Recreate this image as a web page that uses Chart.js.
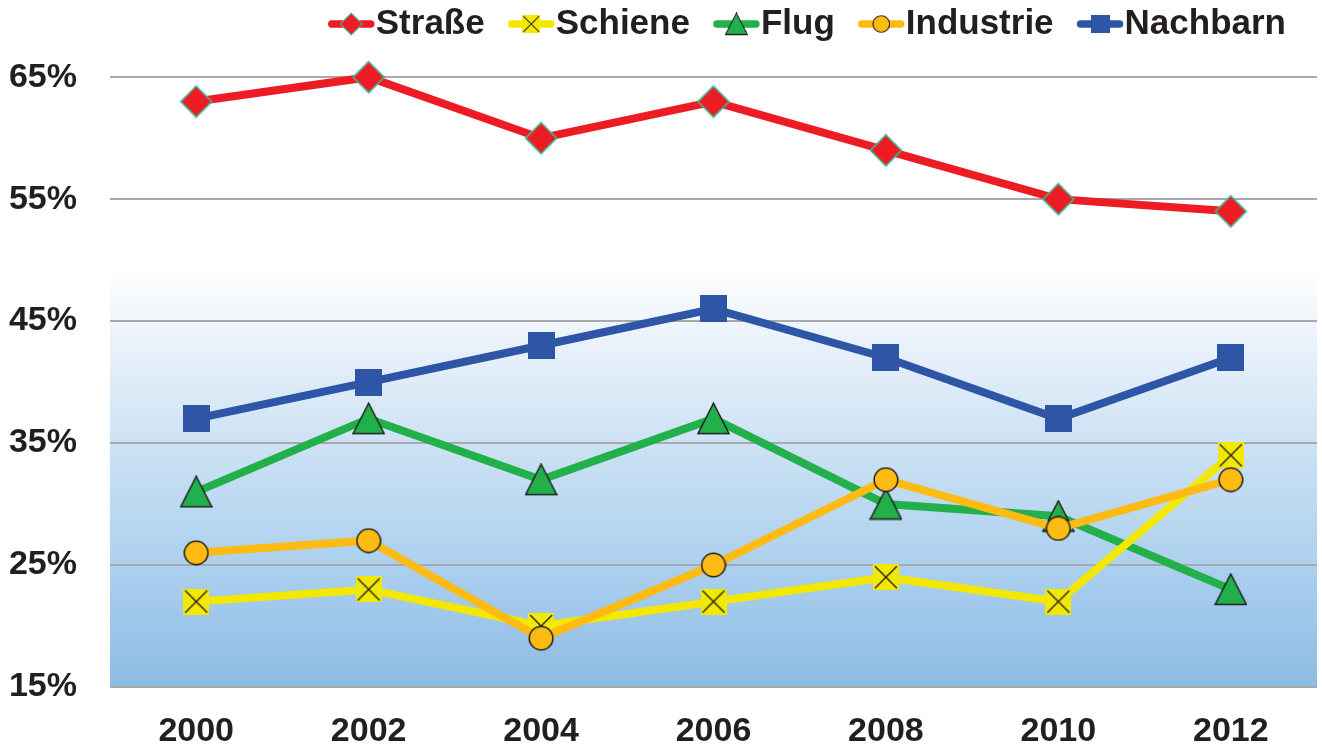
<!DOCTYPE html>
<html>
<head>
<meta charset="utf-8">
<script src="https://cdn.jsdelivr.net/npm/chart.js@4/dist/chart.umd.min.js"></script>
<style>
html,body{margin:0;padding:0;background:#fff;}
#wrap{width:1322px;height:749px;position:relative;}
</style>
</head>
<body>
<div id="wrap"><canvas id="c" width="1322" height="749"></canvas></div>
<script>
const years = ['2000','2002','2004','2006','2008','2010','2012'];
const strasse = [63,65,60,63,59,55,54];
const schiene = [22,23,20,22,24,22,34];
const flug = [31,37,32,37,30,29,23];
const industrie = [26,27,19,25,32,28,32];
const nachbarn = [37,40,43,46,42,37,42];
const yTicks = [15,25,35,45,55,65];
const seriesNames = ['Straße','Schiene','Flug','Industrie','Nachbarn'];

const FONT = '"Liberation Sans", Arial, Helvetica, sans-serif';
const TXT = '#231f20';
const COL = {
  red:'#ed1c24', yellow:'#f2e800', green:'#22b04b', orange:'#fdbb14', blue:'#2e55a6', teal:'#3dbb93'
};

function makeCanvas(w,h,draw){
  const c=document.createElement('canvas'); c.width=w; c.height=h;
  draw(c.getContext('2d'),w,h); return c;
}
const markers = {
  diamond: makeCanvas(34,34,(g,w,h)=>{
    g.beginPath(); g.moveTo(17,1.5); g.lineTo(32.5,17); g.lineTo(17,32.5); g.lineTo(1.5,17); g.closePath();
    g.fillStyle=COL.red; g.fill(); g.lineWidth=1.6; g.strokeStyle=COL.teal; g.stroke();
  }),
  xsquare: makeCanvas(26,26,(g,w,h)=>{
    g.fillStyle=COL.yellow; g.fillRect(0,0,26,26);
    g.strokeStyle=TXT; g.lineWidth=1.4; g.beginPath();
    g.moveTo(2,2); g.lineTo(24,24); g.moveTo(24,2); g.lineTo(2,24); g.stroke();
  }),
  triangle: makeCanvas(33,33,(g,w,h)=>{
    g.beginPath(); g.moveTo(16.5,1); g.lineTo(32,31.5); g.lineTo(1,31.5); g.closePath();
    g.fillStyle=COL.green; g.fill(); g.lineWidth=1.5; g.strokeStyle=TXT; g.lineJoin='miter'; g.stroke();
  }),
  circle: makeCanvas(26,26,(g,w,h)=>{
    g.beginPath(); g.arc(13,13,11.8,0,Math.PI*2);
    g.fillStyle=COL.orange; g.fill(); g.lineWidth=1.5; g.strokeStyle=TXT; g.stroke();
  }),
  square: makeCanvas(27,27,(g,w,h)=>{
    g.fillStyle=COL.blue; g.fillRect(0,0,27,27);
  })
};
const seriesStyle = [
  {data:strasse,  color:COL.red,    marker:markers.diamond},
  {data:schiene,  color:COL.yellow, marker:markers.xsquare},
  {data:flug,     color:COL.green,  marker:markers.triangle},
  {data:industrie,color:COL.orange, marker:markers.circle},
  {data:nachbarn, color:COL.blue,   marker:markers.square}
];
const drawOrder = [0,3,4,1,2]; // smaller order value drawn on top in Chart.js

const bgPlugin = {
  id:'bg',
  beforeDraw(chart){
    const {ctx, chartArea:a} = chart;
    const g = ctx.createLinearGradient(0,a.top,0,a.bottom);
    const h = a.bottom-a.top;
    g.addColorStop(0,'#ffffff');
    g.addColorStop(Math.max(0,(265-a.top)/h),'#ffffff');
    g.addColorStop((330-a.top)/h,'#edf4fb');
    g.addColorStop((443-a.top)/h,'#cde2f4');
    g.addColorStop((565-a.top)/h,'#acd0ee');
    g.addColorStop(1,'#8dbbe4');
    ctx.save(); ctx.fillStyle=g; ctx.fillRect(a.left,265,a.right-a.left,a.bottom-265); ctx.restore();
  }
};

const legendPlugin = {
  id:'customLegend',
  afterDraw(chart){
    const ctx = chart.ctx;
    ctx.save();
    ctx.font = 'bold 35px '+FONT;
    const lineLen=45, txtGap=2, itemGap=24, rightEdge=1286, cy=24;
    const widths = seriesNames.map(n=>lineLen+txtGap+ctx.measureText(n).width);
    let total = widths.reduce((s,v)=>s+v,0)+itemGap*(widths.length-1);
    let x = rightEdge-total;
    seriesNames.forEach((n,i)=>{
      const st = seriesStyle[i];
      ctx.strokeStyle=st.color; ctx.lineWidth=7.5; ctx.lineCap='round';
      ctx.beginPath(); ctx.moveTo(x+3,cy); ctx.lineTo(x+lineLen-3,cy); ctx.stroke();
      const m=st.marker, s=0.7;
      const mw=m.width*s, mh=m.height*s;
      ctx.drawImage(m, x+lineLen/2-mw/2, cy-mh/2, mw, mh);
      ctx.fillStyle=TXT; ctx.textBaseline='middle'; ctx.textAlign='left';
      ctx.fillText(n, x+lineLen+txtGap, cy);
      x += widths[i]+itemGap;
    });
    ctx.restore();
  }
};

new Chart(document.getElementById('c'),{
  type:'line',
  data:{
    labels:years,
    datasets: seriesStyle.map((s,i)=>({
      label:seriesNames[i],
      data:s.data,
      borderColor:s.color,
      backgroundColor:s.color,
      borderWidth:8,
      tension:0,
      fill:false,
      clip:false,
      pointStyle:s.marker,
      pointRadius:14,
      pointHoverRadius:14,
      order:drawOrder[i]
    }))
  },
  options:{
    responsive:false,
    animation:false,
    events:[],
    layout:{autoPadding:false,padding:{top:4,right:5,bottom:0,left:0}},
    plugins:{legend:{display:false},tooltip:{enabled:false}},
    scales:{
      x:{
        type:'category',
        offset:true,
        grid:{display:false,drawTicks:false},
        border:{display:false},
        ticks:{font:{family:FONT,size:34,weight:'bold'},color:TXT,padding:24,maxRotation:0},
        afterFit(s){ s.height=62; s.paddingLeft=0; s.paddingRight=0; }
      },
      y:{
        min:15, max:71,
        afterBuildTicks(s){ s.ticks = yTicks.map(v=>({value:v})); },
        grid:{color:'#a7a9ac',lineWidth:2,drawTicks:false},
        border:{display:false},
        ticks:{font:{family:FONT,size:34,weight:'bold'},color:TXT,padding:33,
          callback:v=>v+'%'},
        afterFit(s){ s.width=110; s.paddingTop=0; s.paddingBottom=0; }
      }
    }
  },
  plugins:[bgPlugin,legendPlugin]
});
</script>
</body>
</html>
